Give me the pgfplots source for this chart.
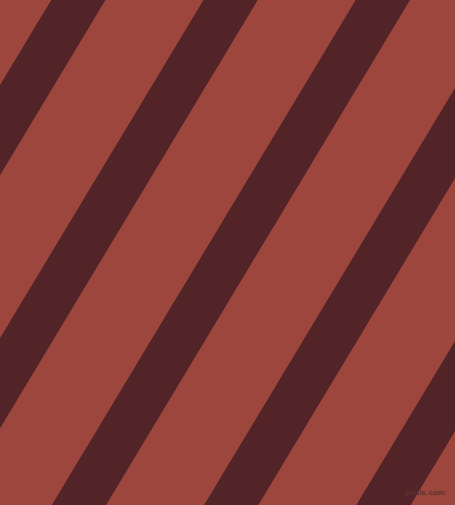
\documentclass[border=0pt]{standalone}
\usepackage{pgfplots}
\pgfplotsset{compat=1.18}
\usepackage{fontspec}
\setmainfont{DejaVu Sans}
\definecolor{bgred}{HTML}{9C463D}
\definecolor{darkstripe}{HTML}{522427}
\definecolor{wm}{HTML}{5A3432}
\begin{document}
\begin{tikzpicture}
\begin{axis}[
  scale only axis, width=455pt, height=505pt,
  xmin=0, xmax=455, ymin=0, ymax=505,
  hide axis, clip=false,
]
\addplot[draw=none, fill=bgred] coordinates {(-10,-10) (465,-10) (465,515) (-10,515)} -- cycle;
\addplot[draw=none, fill=darkstripe] coordinates {(60.3,519) (114.3,519) (-204,-10) (-258,-10)} -- cycle;
\addplot[draw=none, fill=darkstripe] coordinates {(212.3,519) (266.3,519) (-52,-10) (-106,-10)} -- cycle;
\addplot[draw=none, fill=darkstripe] coordinates {(364.3,519) (418.3,519) (100,-10) (46,-10)} -- cycle;
\addplot[draw=none, fill=darkstripe] coordinates {(516.3,519) (570.3,519) (252,-10) (198,-10)} -- cycle;
\addplot[draw=none, fill=darkstripe] coordinates {(668.3,519) (722.3,519) (404,-10) (350,-10)} -- cycle;
\node[text=wm, font=\fontsize{7}{8}\selectfont\bfseries, anchor=east, inner sep=0pt] at (axis cs:445,12) {pixlis.com};
\end{axis}
\pgfresetboundingbox
\path[use as bounding box] ([shift={(0.4pt,0.4pt)}]current axis.south west) rectangle ([shift={(-0.4pt,-0.4pt)}]current axis.north east);
\end{tikzpicture}
\end{document}
